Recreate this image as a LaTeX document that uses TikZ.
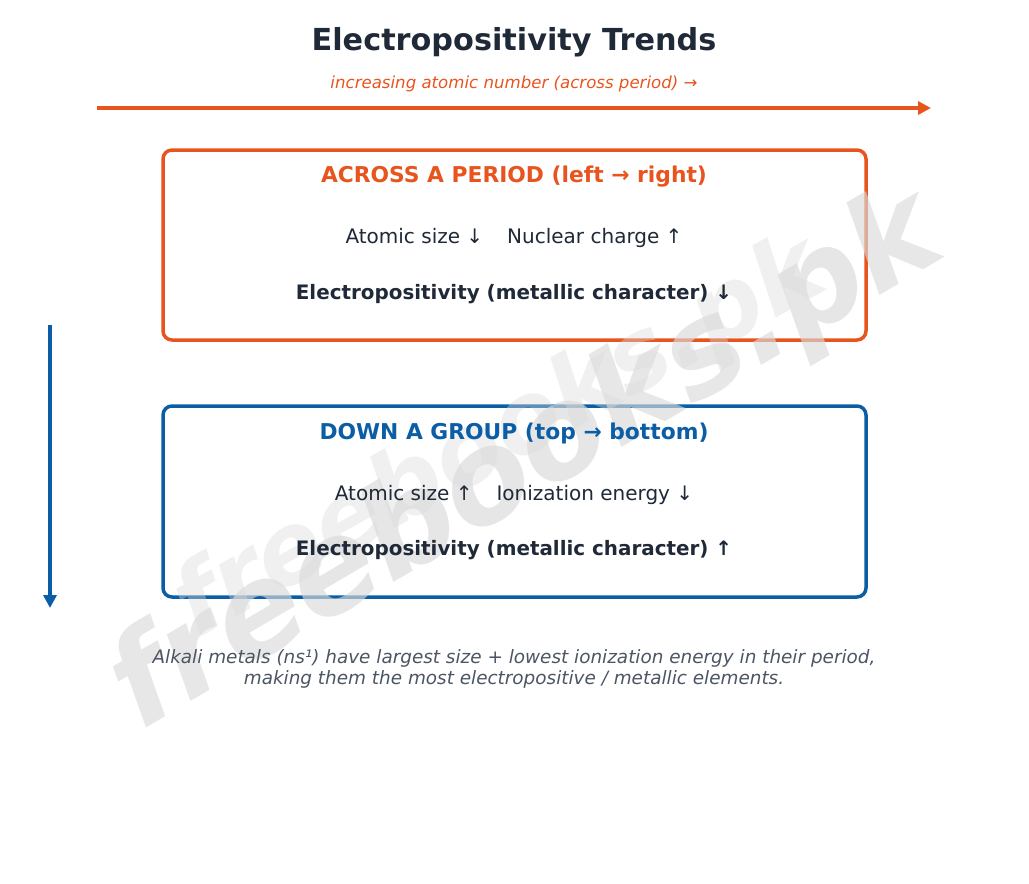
\documentclass[tikz,border=0pt]{standalone}
\usepackage{fontspec}
\setmainfont{DejaVu Sans}
\usetikzlibrary{arrows.meta}
\definecolor{corange}{HTML}{E8541E}
\definecolor{cblue}{HTML}{0B5EA5}
\definecolor{cdark}{HTML}{1F2937}
\definecolor{cgray}{HTML}{4B5563}
\definecolor{cwm}{HTML}{DADADA}
\tikzset{
  panel/.style={draw, line width=3.5pt, rounded corners=9pt, fill=white},
  ttl/.style={font=\bfseries\fontsize{21.8}{26}\selectfont},
  body/.style={font=\fontsize{20}{24}\selectfont, text=cdark},
  bodyb/.style={font=\bfseries\fontsize{19.9}{24}\selectfont, text=cdark},
  trend/.style={line width=3.5pt, -{Triangle[length=13pt,width=13pt]}},
  wm/.style={text=cwm, inner sep=0pt}
}
\begin{document}
\begin{tikzpicture}[x=1pt,y=-1pt]
\useasboundingbox (0,0) rectangle (1029,884);
% title
\node[font=\bfseries\fontsize{30.3}{34}\selectfont, text=cdark] (title) at (514,42) {Electropositivity Trends};
\node[font=\itshape\fontsize{16.6}{20}\selectfont, text=corange] (sub) at (514,84) {increasing atomic number (across period) →};
\coordinate (hs) at (97,108);
\coordinate (he) at (931,108);
\draw[trend, corange] (hs) -- (he);
\coordinate (vs) at (50,325);
\coordinate (ve) at (50,608);
\draw[trend, cblue] (vs) -- (ve);
% boxes
\node[panel, draw=corange, minimum width=703pt, minimum height=190pt] (box1) at (514.5,245) {};
\node[panel, draw=cblue, minimum width=703pt, minimum height=191pt] (box2) at (514.5,501.5) {};
% watermark
\node[wm, opacity=0.4, font=\bfseries\itshape\fontsize{98}{98}\selectfont, rotate=29] (wm2) at (500,440) {freebooks.pk};
\node[wm, opacity=0.65, font=\bfseries\itshape\fontsize{127}{127}\selectfont, rotate=30.5] (wm1) at (527,463) {freebooks.pk};
% box texts
\node[ttl, text=corange] (t1) at (514,177) {ACROSS A PERIOD (left → right)};
\node[body] (l1) at (514,238) {Atomic size ↓\hspace{1.2em}Nuclear charge ↑};
\node[bodyb] (e1) at (514,294) {Electropositivity (metallic character) ↓};
\node[ttl, text=cblue] (t2) at (514,433) {DOWN A GROUP (top → bottom)};
\node[body] (l2) at (514,495) {Atomic size ↑\hspace{1.2em}Ionization energy ↓};
\node[bodyb] (e2) at (514,550) {Electropositivity (metallic character) ↑};
% footer
\node[font=\itshape\fontsize{18.4}{21}\selectfont, text=cgray, align=center] (foot) at (514,668.5) {Alkali metals (ns¹) have largest size + lowest ionization energy in their period,\\making them the most electropositive / metallic elements.};
\end{tikzpicture}
\end{document}
